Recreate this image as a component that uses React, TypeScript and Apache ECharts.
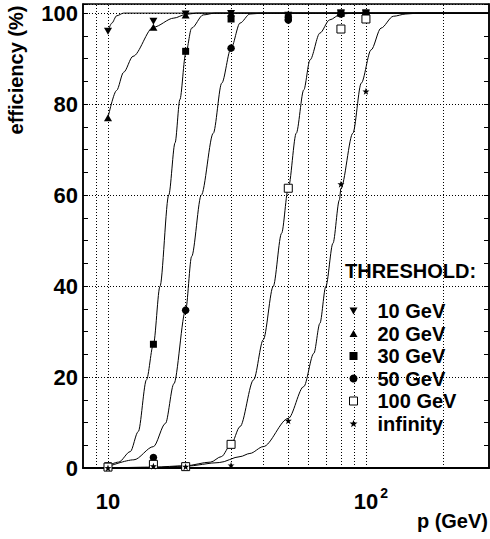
import React, { useEffect, useRef } from "react";
import * as echarts from "echarts";

// ---- data ----
const momenta = [10, 15, 20, 30, 50, 80, 100];
const thresholdNames = ["10 GeV", "20 GeV", "30 GeV", "50 GeV", "100 GeV", "infinity"];
const eff10 = [96, 98.2, 99.8, 99.9, 99.5, 100, 100];
const eff20 = [77, 96.9, 99.6, 100, 99.8, 100, 100];
const eff30 = [0.5, 27.2, 91.6, 98.7, 99, 100, 100];
const eff50 = [0.3, 2.3, 34.7, 92.3, 98.5, 99.8, 99.8];
const eff100 = [0.2, 0.8, 0.3, 5.2, 61.5, 96.5, 98.7];
const effInf = [0, 0.4, 0.3, 0.6, 10.4, 62.4, 82.8];

// fitted curves: [p, efficiency]
const fit10 = [[10, 96], [10.35, 97.8], [10.8, 99.4], [11.5, 100], [300, 100]];
const fit20 = [[10, 77], [10.8, 83], [11.5, 87], [12.5, 90.5], [15, 96.9], [18, 98.9], [20, 99.7], [22, 100], [300, 100]];
const fit30 = [[10, 0.5], [11, 1.3], [12.2, 3.6], [13.1, 8], [14.1, 19.4], [15, 27.2], [15.9, 39.9], [17.2, 60], [18.2, 71.5], [19, 81], [20, 91], [21.1, 96.7], [23.4, 99.6], [26, 100], [300, 100]];
const fit50 = [[10, 0.3], [12.6, 1.8], [15, 4.7], [16.7, 9.8], [18, 18.5], [20, 34.7], [21.1, 46.5], [23, 60], [25.6, 73.6], [27.6, 84.6], [30, 92.3], [32.5, 97.8], [35.5, 99.8], [40, 100], [300, 100]];
const fit100 = [[10, 0], [15, 0.2], [20, 0.5], [25, 1.3], [27.5, 2.5], [30, 5.2], [32.5, 9.1], [36.7, 19.4], [40, 28.2], [43.7, 39.9], [47.1, 51.6], [50, 61.5], [53.7, 73.6], [57.4, 83.1], [60.7, 89.7], [66.3, 95.6], [72.3, 98.5], [80, 99.8], [90, 100], [300, 100]];
const fitInf = [[10, 0], [15, 0.1], [20, 0.4], [27, 1.2], [32.5, 2.5], [35.5, 3.2], [40, 4.7], [50, 10.9], [57.4, 17.9], [62.8, 25.2], [66.3, 31.8], [69.9, 39.9], [74.5, 49.4], [78.9, 58.9], [80, 61.5], [89, 73.6], [95.9, 84.6], [104.7, 91.9], [114.4, 96.7], [127.7, 99.3], [142.8, 99.8], [160, 100], [300, 100]];

const yLabelTicks = [0, 20, 40, 60, 80, 100];
const xGridValues = [9, 10, 20, 30, 40, 50, 60, 70, 80, 90, 100, 200];

const FONT = "Liberation Sans";
const STAR = "path://M0,-10L2.35,-3.24L9.51,-3.09L3.8,1.24L5.88,8.09L0,4L-5.88,8.09L-3.8,1.24L-9.51,-3.09L-2.35,-3.24Z";
const TRI_DOWN = "path://M0,0L10,0L5,9Z";
const TRI_UP = "path://M5,0L10,9L0,9Z";

const effSets = [eff10, eff20, eff30, eff50, eff100, effInf];
const fitSets = [fit10, fit20, fit30, fit50, fit100, fitInf];
const markerDefs = [
  { symbol: TRI_DOWN, size: [8, 7], fill: "#000" },
  { symbol: TRI_UP, size: [8, 7], fill: "#000" },
  { symbol: "rect", size: 7, fill: "#000" },
  { symbol: "circle", size: 7.5, fill: "#000" },
  { symbol: "rect", size: 8, fill: "#fff" },
  { symbol: STAR, size: 7, fill: "#000" },
];

export default function App() {
  const ref = useRef<HTMLDivElement>(null);
  useEffect(() => {
    if (!ref.current) return;
    const chart = echarts.init(ref.current, null, { renderer: "svg" });
    const lineSeries = fitSets.map((fit, i) => ({
      name: thresholdNames[i] + " fit",
      type: "line",
      data: fit,
      smooth: 0.3,
      smoothMonotone: "x",
      showSymbol: false,
      symbol: "none",
      silent: true,
      z: 2,
      lineStyle: { color: "#000", width: 1 },
      ...(i === 0
        ? {
            markLine: {
              silent: true,
              symbol: "none",
              label: { show: false },
              lineStyle: { color: "#000", type: [1, 2], width: 1 },
              data: xGridValues.map((v) => ({ xAxis: v })),
              z: 1,
            },
          }
        : {}),
    }));
    const scatterSeries = effSets.map((eff, i) => ({
      name: thresholdNames[i],
      type: "scatter",
      data: momenta.map((p, j) => [p, eff[j]]),
      symbol: markerDefs[i].symbol,
      symbolSize: markerDefs[i].size,
      z: 5,
      itemStyle: {
        color: markerDefs[i].fill,
        borderColor: "#000",
        borderWidth: markerDefs[i].fill === "#fff" ? 1 : 0,
        opacity: 1,
      },
    }));
    chart.setOption({
      animation: false,
      backgroundColor: "#fff",
      textStyle: { fontFamily: FONT },
      grid: { left: 83, right: 1, top: 4, bottom: 71, show: true, borderColor: "#000", borderWidth: 1.5, containLabel: false },
      xAxis: {
        type: "log",
        logBase: 10,
        min: 8,
        max: 300,
        axisLine: { show: true, lineStyle: { color: "#000", width: 2 } },
        axisTick: { show: false },
        splitLine: { show: false },
        axisLabel: {
          margin: 20,
          color: "#000",
          fontFamily: FONT,
          fontWeight: "bold",
          fontSize: 22,
          showMinLabel: false,
          showMaxLabel: false,
          formatter: (v: number) => {
            const l = Math.log10(v);
            if (Math.abs(l - 1) < 1e-6) return "{a|10}";
            if (Math.abs(l - 2) < 1e-6) return "{p|}{a|10}{s|2}";
            return "";
          },
          rich: {
            a: { fontSize: 22, fontWeight: "bold", fontFamily: FONT, color: "#000", lineHeight: 26 },
            s: { fontSize: 14, fontWeight: "bold", fontFamily: FONT, color: "#000", padding: [0, 0, 16, 2], lineHeight: 14 },
            p: { width: 10 },
          },
        },
      },
      yAxis: [
        {
          type: "value",
          min: 0,
          max: 102,
          interval: 20,
          position: "left",
          axisLine: { show: true, lineStyle: { color: "#000", width: 1.5 } },
          axisTick: { show: false },
          axisLabel: {
            margin: 5,
            color: "#000",
            fontFamily: FONT,
            fontWeight: "bold",
            fontSize: 22,
            formatter: (v: number) => (yLabelTicks.includes(v) ? String(v) : ""),
          },
          splitLine: { show: true, lineStyle: { color: "#000", type: [1, 2], width: 1 } },
        },
        {
          type: "value",
          min: 0,
          max: 102,
          interval: 5,
          position: "left",
          axisLine: { show: false },
          axisTick: { show: true, inside: true, length: 5, lineStyle: { color: "#000", width: 1 } },
          axisLabel: { show: false },
          splitLine: { show: false },
        },
        {
          type: "value",
          min: 0,
          max: 102,
          interval: 5,
          position: "right",
          axisLine: { show: true, lineStyle: { color: "#000", width: 1.5 } },
          axisTick: { show: true, inside: true, length: 5, lineStyle: { color: "#000", width: 1 } },
          axisLabel: { show: false },
          splitLine: { show: false },
        },
      ],
      legend: {
        orient: "vertical",
        left: 349,
        top: 300,
        padding: 0,
        itemWidth: 8,
        itemHeight: 8,
        itemGap: 0.5,
        selectedMode: false,
        data: thresholdNames.map((n, i) =>
          i === 4
            ? { name: n, icon: "rect", itemStyle: { color: "#fff", borderColor: "#000", borderWidth: 1 } }
            : { name: n }
        ),
        textStyle: { fontFamily: FONT, fontWeight: "bold", fontSize: 20, color: "#000", lineHeight: 22, padding: [0, 0, 0, 15] },
      },
      graphic: [
        {
          type: "text",
          x: 345,
          y: 271,
          style: { text: "THRESHOLD:", font: `bold 20px "${FONT}"`, fill: "#000", align: "left", verticalAlign: "middle" },
        },
        {
          type: "text",
          x: 16,
          y: 70,
          rotation: Math.PI / 2,
          style: { text: "efficiency (%)", font: `bold 20px "${FONT}"`, fill: "#000", align: "center", verticalAlign: "middle" },
        },
        {
          type: "text",
          x: 488,
          y: 521,
          style: { text: "p (GeV)", font: `bold 20px "${FONT}"`, fill: "#000", align: "right", verticalAlign: "middle" },
        },
      ],
      series: [...lineSeries, ...scatterSeries],
    });
    return () => chart.dispose();
  }, []);
  return <div ref={ref} style={{ position: "fixed", left: 0, top: 0, width: 490, height: 539, background: "#fff" }} />;
}
